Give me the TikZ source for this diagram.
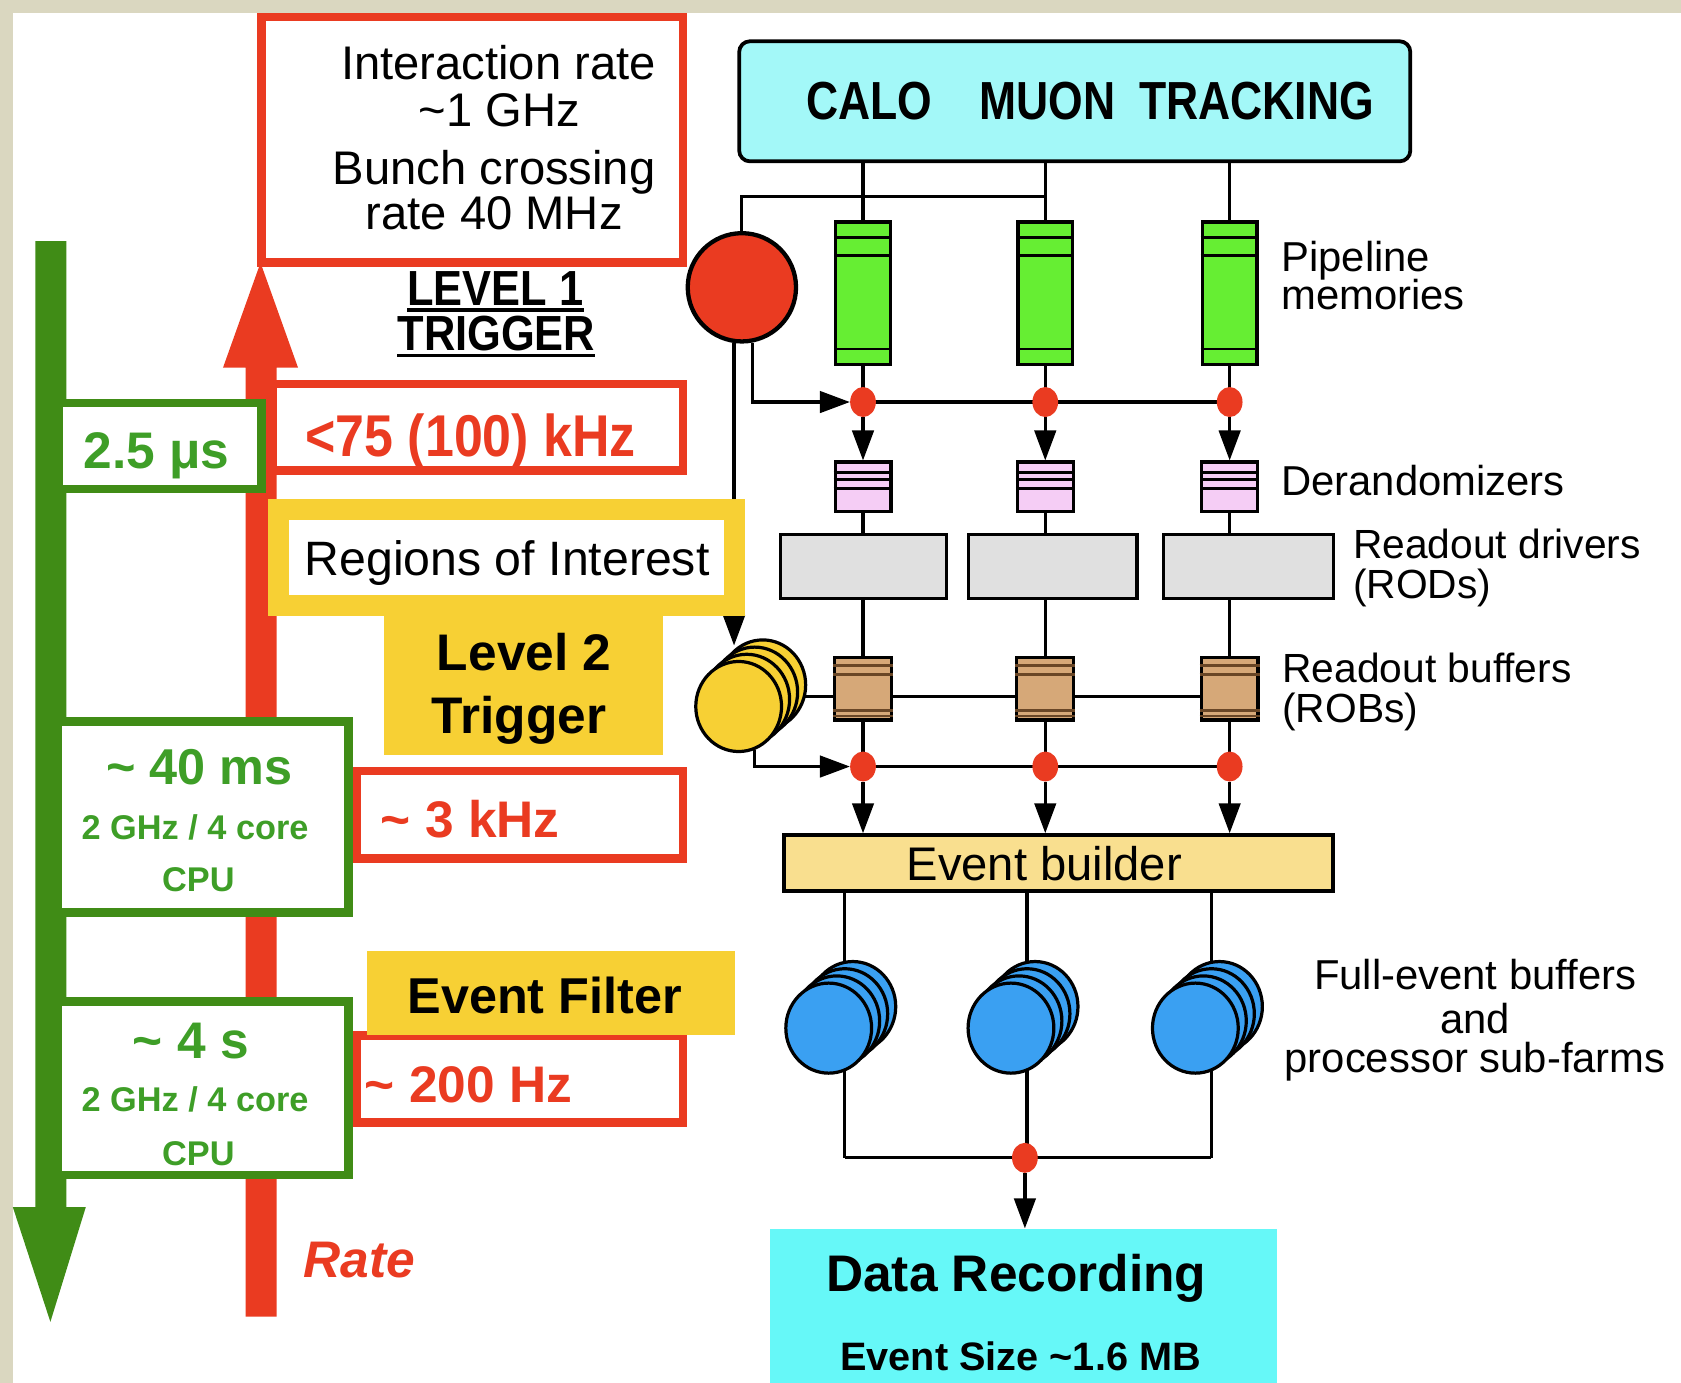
\documentclass[tikz,border=0pt]{standalone}
\usepackage{fontspec}
\setmainfont{Liberation Sans}
\newfontfamily\condfont[FakeStretch=0.88]{Liberation Sans}
\newfontfamily\narrowfont[FakeStretch=0.83]{Liberation Sans}
\usetikzlibrary{arrows.meta,shapes.geometric}
\pgfdeclarelayer{paper}
\pgfdeclarelayer{wires}
\pgfsetlayers{paper,wires,main}

\definecolor{paperc}{RGB}{218,215,192}
\definecolor{trred}{RGB}{234,59,33}
\definecolor{trgreen}{RGB}{64,140,22}
\definecolor{trgtext}{RGB}{62,158,39}
\definecolor{tryellow}{RGB}{247,208,52}
\definecolor{calocyan}{RGB}{163,248,248}
\definecolor{reccyan}{RGB}{102,248,248}
\definecolor{pipegreen}{RGB}{102,238,51}
\definecolor{derpink}{RGB}{245,205,245}
\definecolor{rodgray}{RGB}{224,224,224}
\definecolor{robtan}{RGB}{214,168,120}
\definecolor{robline}{RGB}{105,70,38}
\definecolor{evbyellow}{RGB}{249,223,143}
\definecolor{farmblue}{RGB}{58,160,242}

\newcommand\setfs[1]{\fontsize{#1}{#1}\selectfont}

\begin{document}
\begin{tikzpicture}[x=1pt,y=-1pt,
  lbl/.style={inner sep=0pt, anchor=base},
  lblw/.style={inner sep=0pt, anchor=base west},
  twoline/.style={inner sep=0pt, anchor=north west, align=left,
                  font=\fontsize{38}{37.5}\selectfont},
  wire/.style={line width=3pt, draw=black},
  arr/.style={wire, -{Triangle[length=28pt,width=20pt]}},
  ratebox/.style={draw=trred, line width=8pt, fill=white, inner sep=0pt},
  timebox/.style={draw=trgreen, line width=8pt, fill=white, inner sep=0pt},
  yelbox/.style={fill=tryellow, inner sep=0pt},
  unit/.style={draw=black, line width=3pt, inner sep=0pt},
  dot/.style={ellipse, fill=trred, minimum width=24pt, minimum height=28pt, inner sep=0pt},
  disc/.style={ellipse, draw=black, line width=3pt, minimum width=80pt, minimum height=84pt, inner sep=0pt},
  stripe/.style={line width=2.5pt},
]
\useasboundingbox (0,0) rectangle (1568,1290);
\begin{pgfonlayer}{paper}
  \fill[paperc] (0,0) rectangle (1568,1290);
  \fill[white] (12,12) rectangle (1568,1290);
\end{pgfonlayer}

% ---------- rate (up) and latency (down) arrows ----------
\fill[trred] (229,1228) -- (229,343) -- (208,343) -- (243,245) -- (278,343)
  -- (258,343) -- (258,1228) -- cycle;
\fill[trgreen] (33,225) -- (62,225) -- (62,1126) -- (80,1126) -- (47,1233)
  -- (12,1126) -- (33,1126) -- cycle;

% ---------- rate boxes ----------
\node[ratebox, minimum width=393pt, minimum height=229pt] (irbox) at (440.5,130.5) {};
\node[ratebox, minimum width=383pt, minimum height=81pt] (l1rate) at (445.5,398.5) {};
\node[ratebox, minimum width=304pt, minimum height=82pt] (l2rate) at (485,760) {};
\node[ratebox, minimum width=304pt, minimum height=81pt] (efrate) at (485,1006.5) {};

% ---------- latency boxes ----------
\node[timebox, minimum width=189pt, minimum height=80pt] (l1time) at (149.5,416) {};
\node[timebox, minimum width=271pt, minimum height=178pt] (l2time) at (189.5,762) {};
\node[timebox, minimum width=271pt, minimum height=162pt] (eftime) at (189.5,1015) {};

% ---------- trigger level labels ----------
\node[draw=tryellow, line width=20pt, fill=white, inner sep=0pt,
      minimum width=425pt, minimum height=90pt] (roi) at (472.5,520) {};
\node[yelbox, minimum width=260pt, minimum height=129pt] (l2box) at (488,639.5) {};
\node[yelbox, minimum width=344pt, minimum height=78pt] (efbox) at (514,926) {};

% ---------- texts, left part ----------
\node[lbl] (ir1) at (465,74) {\setfs{44}Interaction rate};
\node[lbl] (ir2) at (466,118) {\setfs{44}\textasciitilde1 GHz};
\node[lbl] (ir3) at (461,172) {\setfs{44}Bunch crossing};
\node[lbl] (ir4) at (461,214) {\setfs{44}rate 40 MHz};
\node[lbl] (lv1) at (462,285) {\condfont\bfseries\setfs{46}LEVEL 1};
\node[lbl] (lv2) at (463,327) {\condfont\bfseries\setfs{46}TRIGGER};
\draw[line width=3pt] ([yshift=-4pt]lv1.south west) -- ([yshift=-4pt]lv1.south east);
\draw[line width=3pt] ([yshift=-4pt]lv2.south west) -- ([yshift=-4pt]lv2.south east);

\node[lbl, text=trgtext] (t25) at (146,437) {\bfseries\setfs{48}2.5 μs};
\node[lbl, text=trred] (r75) at (439,426) {\condfont\bfseries\setfs{55}<75 (100) kHz};
\node[lbl] (roit) at (473,537) {\setfs{45}Regions of Interest};
\node[lbl] (l2a) at (489,625) {\bfseries\setfs{48}Level 2};
\node[lbl] (l2b) at (484,684) {\bfseries\setfs{48}Trigger};

\node[lbl, text=trgtext] (t40) at (186,732) {\bfseries\setfs{47}\textasciitilde\ 40 ms};
\node[lbl, text=trgtext] (c40a) at (182,783) {\bfseries\setfs{32}2 GHz / 4 core};
\node[lbl, text=trgtext] (c40b) at (185,832) {\bfseries\setfs{32}CPU};
\node[lblw, text=trred] (r3k) at (355,781) {\bfseries\setfs{48}\textasciitilde\ 3 kHz};

\node[lbl] (eft) at (508,945) {\bfseries\setfs{47}Event Filter};
\node[lblw, text=trred] (r200) at (340,1028) {\bfseries\setfs{48}\textasciitilde\ 200 Hz};
\node[lbl, text=trgtext] (t4s) at (178,987) {\bfseries\setfs{48}\textasciitilde\ 4 s};
\node[lbl, text=trgtext] (c4a) at (182,1037) {\bfseries\setfs{32}2 GHz / 4 core};
\node[lbl, text=trgtext] (c4b) at (185,1087) {\bfseries\setfs{32}CPU};
\node[lblw, text=trred] (ratet) at (283,1192) {\bfseries\itshape\setfs{48}Rate};

% ---------- data flow, right part ----------
\node[draw=black, line width=3.5pt, rounded corners=10pt, fill=calocyan, inner sep=0pt,
      minimum width=626pt, minimum height=112pt] (calo) at (1002.5,94.5) {};
\node[lblw] (calot) at (752,111) {\narrowfont\bfseries\setfs{50}CALO\hspace{44pt}MUON\hspace{22pt}TRACKING};

\node[circle, draw=black, line width=4pt, fill=trred, minimum size=101pt, inner sep=0pt] (l1) at (692,268) {};

\foreach \c/\x in {1/805,2/975,3/1147} {
  \node[unit, fill=pipegreen, minimum width=51pt, minimum height=133pt] (pipe\c) at (\x,273.5) {};
  \foreach \d in {16,33,120}
    \draw[stripe] ([yshift=-\d pt]pipe\c.north west) -- ([yshift=-\d pt]pipe\c.north east);
  \node[dot] (da\c) at (\x,375) {};
  \node[unit, fill=derpink, minimum width=52pt, minimum height=46pt] (der\c) at (\x,454) {};
  \foreach \d in {11,18,26}
    \draw[stripe] ([yshift=-\d pt]der\c.north west) -- ([yshift=-\d pt]der\c.north east);
  \node[unit, fill=robtan, minimum width=53pt, minimum height=58pt] (rob\c) at (\x,642.5) {};
  \foreach \d in {9,17}
    \draw[stripe, robline] ([yshift=-\d pt]rob\c.north west) -- ([yshift=-\d pt]rob\c.north east);
  \foreach \d in {5,10}
    \draw[stripe, robline] ([yshift=\d pt]rob\c.south west) -- ([yshift=\d pt]rob\c.south east);
  \node[dot] (db\c) at (\x,715) {};
}
\node[unit, fill=rodgray, minimum width=155pt, minimum height=60pt] (rod1) at (805.5,528.5) {};
\node[unit, fill=rodgray, minimum width=157pt, minimum height=60pt] (rod2) at (982,528.5) {};
\node[unit, fill=rodgray, minimum width=158pt, minimum height=60pt] (rod3) at (1164.5,528.5) {};

\foreach \k in {3,2,1,0}
  \node[disc, fill=tryellow] (l2d\k) at ({689+7.5*\k},{659-6.7*\k}) {};

\node[draw=black, line width=3.5pt, fill=evbyellow, inner sep=0pt,
      minimum width=512pt, minimum height=52pt] (evb) at (987.5,805) {};
\node[lbl] (evbt) at (974,821) {\setfs{44}Event builder};

\foreach \s/\x in {a/773,b/943,c/1115}
  \foreach \k in {3,2,1,0}
    \node[disc, fill=farmblue] (f\s\k) at ({\x+7.5*\k},{959-6.7*\k}) {};

\node[dot] (sink) at (956,1080) {};
\node[fill=reccyan, inner sep=0pt, minimum width=473pt, minimum height=144pt] (rec) at (954.5,1218) {};
\node[lbl] (rect1) at (948,1205) {\bfseries\setfs{48}Data Recording};
\node[lbl] (rect2) at (952,1278) {\bfseries\setfs{37}Event Size \textasciitilde1.6 MB};

% ---------- right-hand labels ----------
\node[lblw] (lpa) at (1195,253) {\setfs{39}Pipeline};
\node[lblw] (lpb) at (1195,289) {\setfs{39}memories};
\node[lblw] (lder) at (1195,462) {\setfs{39}Derandomizers};
\node[twoline] (lrod) at (1262,493) {Readout drivers\\(RODs)};
\node[twoline] (lrob) at (1196,609) {Readout buffers\\(ROBs)};
\node[lbl] (lfa) at (1376,923) {\setfs{39}Full-event buffers};
\node[lbl] (lfb) at (1376,964) {\setfs{39}and};
\node[lbl] (lfc) at (1376,1000) {\setfs{39}processor sub-farms};

% ---------- connections ----------
\coordinate (tapy) at (0,183);
\coordinate (l1tap) at (pipe2.north |- tapy);
\coordinate (robrow) at (0,650);
\begin{pgfonlayer}{wires}
  \foreach \c in {1,2,3} {
    \draw[wire] (calo.south -| pipe\c.north) -- (pipe\c.north);
    \draw[wire] (pipe\c.south) -- (da\c.center);
    \draw[arr] (da\c.south) -- (der\c.north);
    \draw[wire] (der\c.south) -- (der\c.south |- rod\c.north);
    \draw[wire] (der\c.south |- rod\c.south) -- (rob\c.north);
    \draw[wire] (rob\c.south) -- (db\c.center);
    \draw[arr] (db\c.south) -- (db\c.south |- evb.north);
  }
  \draw[wire] (l1.north) |- (l1tap);
  \draw[wire] (da1.center) -- (da3.center);
  \draw[arr] (l1.-79) |- (da1.west);
  \draw[arr] (l1.-98) -- (l1.-98 |- l2d2.north);
  \draw[wire] (l2d3.center |- robrow) -- (rob3.center |- robrow);
  \draw[wire] (db1.center) -- (db3.center);
  \draw[arr] (l2d0.-70) |- (db1.west);
  \foreach \s in {a,b,c}
    \draw[wire] (evb.south -| f\s2.center) -- (f\s2.center |- sink.center);
  \draw[wire] (fa2.center |- sink.center) -- (fc2.center |- sink.center);
  \draw[arr] (sink.south) -- (sink.south |- rec.north);
\end{pgfonlayer}
\end{tikzpicture}
\end{document}
